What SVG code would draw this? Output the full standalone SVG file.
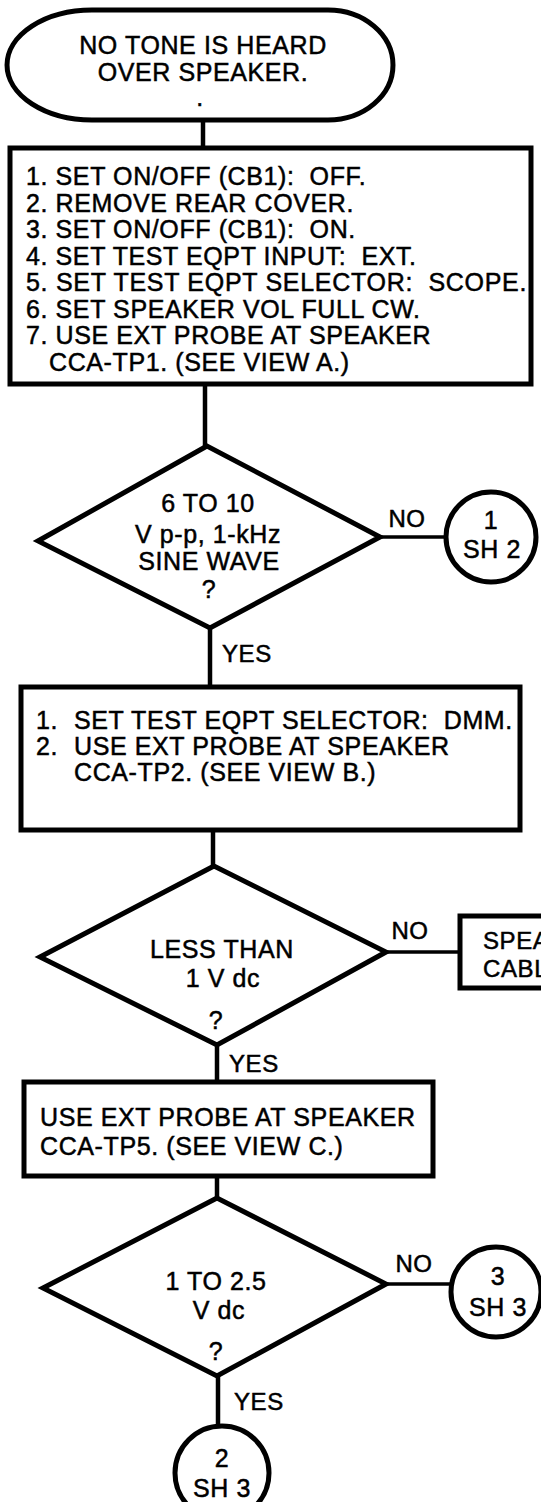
<svg xmlns="http://www.w3.org/2000/svg" width="541" height="1502" viewBox="0 0 541 1502">
<style>
  text { font-family: "Liberation Sans", Arial, sans-serif; font-size: 25px; fill: #000; stroke: #000; stroke-width: 0.5px; letter-spacing: 0.6px; white-space: pre; }
  .c { text-anchor: middle; }
  .lbl { font-size: 24px; }
  .shape { fill: #fff; stroke: #000; stroke-width: 5; stroke-linejoin: miter; }
  .conn line { stroke: #000; stroke-width: 4.5; }
  .conn line.h { stroke-width: 3.5; }
</style>
<rect x="0" y="0" width="541" height="1502" fill="#fff"/>

<g class="conn" id="connectors">
  <line x1="203" y1="118" x2="203" y2="150"/>
  <line x1="205" y1="383" x2="205" y2="448"/>
  <line class="h" x1="380" y1="537" x2="446" y2="537"/>
  <line x1="210" y1="626" x2="210" y2="689"/>
  <line x1="213" y1="828" x2="213" y2="868"/>
  <line class="h" x1="386" y1="952" x2="462" y2="952"/>
  <line x1="217" y1="1043" x2="217" y2="1084"/>
  <line x1="217" y1="1174" x2="217" y2="1200"/>
  <line class="h" x1="386" y1="1284" x2="452" y2="1284"/>
  <line x1="218" y1="1374" x2="218" y2="1427"/>
</g>

<g id="start">
  <path class="shape" d="M 92,10 L 328,10 A 65,55 0 0 1 328,120 L 92,120 A 85,55 0 0 1 92,10 Z"/>
  <text class="c" x="203" y="54">NO TONE IS HEARD</text>
  <text class="c" x="203" y="81">OVER SPEAKER.</text>
  <text class="c" x="200" y="106">.</text>
</g>

<g id="box1">
  <rect class="shape" x="10" y="148" width="521" height="236"/>
  <text x="26" y="185">1. SET ON/OFF (CB1):  OFF.</text>
  <text x="26" y="212">2. REMOVE REAR COVER.</text>
  <text x="26" y="238">3. SET ON/OFF (CB1):  ON.</text>
  <text x="26" y="265">4. SET TEST EQPT INPUT:  EXT.</text>
  <text x="26" y="291" textLength="501">5. SET TEST EQPT SELECTOR:  SCOPE.</text>
  <text x="26" y="318">6. SET SPEAKER VOL FULL CW.</text>
  <text x="26" y="344">7. USE EXT PROBE AT SPEAKER</text>
  <text x="49" y="371">CCA-TP1. (SEE VIEW A.)</text>
</g>

<g id="dec1">
  <polygon class="shape" points="207,446 38,541 210,628 380,537"/>
  <text class="c" x="208" y="512">6 TO 10</text>
  <text class="c" x="208" y="543">V p-p, 1-kHz</text>
  <text class="c" x="209" y="570">SINE WAVE</text>
  <text class="c" x="209" y="598">?</text>
  <text class="c lbl" x="407" y="527">NO</text>
  <text class="lbl" x="222" y="662">YES</text>
</g>

<g id="conn1">
  <circle class="shape" cx="491" cy="537" r="45"/>
  <text class="c" x="491" y="529">1</text>
  <text class="c" x="492" y="558">SH 2</text>
</g>

<g id="box2">
  <rect class="shape" x="21" y="687" width="499" height="143"/>
  <text x="36" y="729">1.</text>
  <text x="74" y="729">SET TEST EQPT SELECTOR:  DMM.</text>
  <text x="36" y="755">2.</text>
  <text x="74" y="755">USE EXT PROBE AT SPEAKER</text>
  <text x="74" y="781">CCA-TP2. (SEE VIEW B.)</text>
</g>

<g id="dec2">
  <polygon class="shape" points="214,866 40,957 217,1045 386,952"/>
  <text class="c" x="222" y="958">LESS THAN</text>
  <text class="c" x="223" y="987">1 V dc</text>
  <text class="c" x="216" y="1029">?</text>
  <text class="c lbl" x="410" y="939">NO</text>
  <text class="lbl" x="229" y="1072">YES</text>
</g>

<g id="speaker-cable">
  <path class="shape" d="M 545,916 L 460,916 L 460,988 L 545,988"/>
  <text x="483" y="949" style="font-size:24px">SPEA</text>
  <text x="483" y="977" style="font-size:24px">CABL</text>
</g>

<g id="box3">
  <rect class="shape" x="24" y="1082" width="409" height="94"/>
  <text x="40" y="1126">USE EXT PROBE AT SPEAKER</text>
  <text x="40" y="1155">CCA-TP5. (SEE VIEW C.)</text>
</g>

<g id="dec3">
  <polygon class="shape" points="217,1198 43,1288 217,1376 386,1284"/>
  <text class="c" x="216" y="1290">1 TO 2.5</text>
  <text class="c" x="219" y="1319">V dc</text>
  <text class="c" x="216" y="1360">?</text>
  <text class="c lbl" x="414" y="1272">NO</text>
  <text class="lbl" x="234" y="1410">YES</text>
</g>

<g id="conn3">
  <circle class="shape" cx="496" cy="1292" r="45"/>
  <text class="c" x="498" y="1285">3</text>
  <text class="c" x="498" y="1316">SH 3</text>
</g>

<g id="conn2">
  <circle class="shape" cx="222" cy="1473" r="47"/>
  <text class="c" x="222" y="1467">2</text>
  <text class="c" x="222" y="1497">SH 3</text>
</g>
</svg>
